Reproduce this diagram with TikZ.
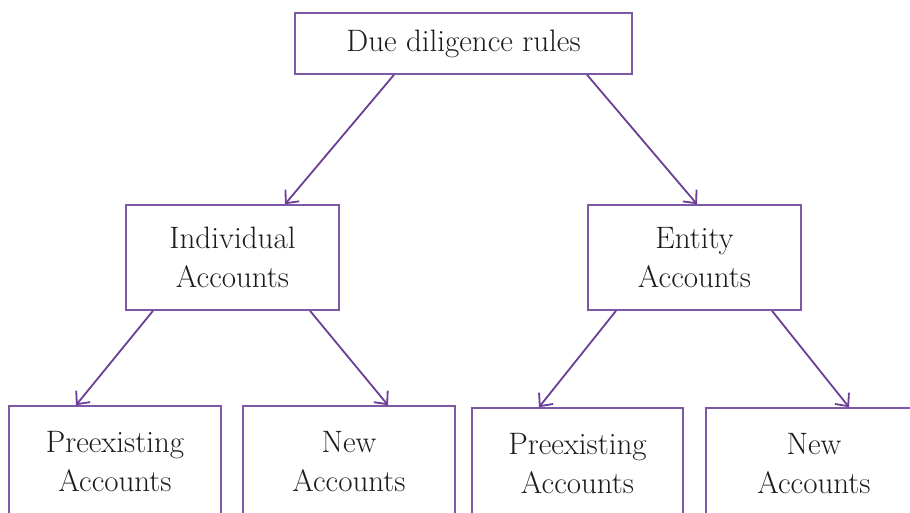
\documentclass[tikz,border=0pt]{standalone}
\usetikzlibrary{arrows.meta}
\definecolor{linepurple}{RGB}{108,62,150}
\definecolor{boxpurple}{RGB}{125,88,165}
\definecolor{txt}{RGB}{30,27,28}
\begin{document}
\begin{tikzpicture}[x=1pt,y=-1pt,
  box/.style={draw=boxpurple,line width=1.6pt,rectangle,align=center,inner sep=0pt,
    text=txt,font=\fontsize{31}{39}\selectfont},
  conn/.style={draw=linepurple,line width=1.8pt,-{Straight Barb[length=10pt,width=18pt,line width=1.8pt]}}]
\useasboundingbox (0,0) rectangle (910,513);
\clip (0,0) rectangle (910,513);
\fill[white] (0,0) rectangle (910,513);
\node[box,minimum width=337pt,minimum height=61pt] (top) at (463.5,43.5) {Due diligence rules};
\node[box,minimum width=213pt,minimum height=105pt] (ind) at (232.5,257.5) {Individual\\Accounts};
\node[box,minimum width=213pt,minimum height=105pt] (ent) at (694.5,257.5) {Entity\\Accounts};
\node[box,minimum width=212pt,minimum height=112pt] (b1) at (115,462) {Preexisting\\Accounts};
\node[box,minimum width=212pt,minimum height=112pt] (b2) at (349,462) {New\\Accounts};
\node[box,minimum width=211pt,minimum height=112pt] (b3) at (577.5,464) {Preexisting\\Accounts};
\node[box,minimum width=216pt,minimum height=112pt] (b4) at (814,464) {New\\Accounts};
\draw[conn] ([xshift=-69.5pt]top.south) -- ([xshift=52.5pt]ind.north);
\draw[conn] ([xshift=123.5pt]top.south) -- ([xshift=2.5pt]ent.north);
\draw[conn] ([xshift=-79.5pt]ind.south) -- ([xshift=-39pt]b1.north);
\draw[conn] ([xshift=77.5pt]ind.south) -- ([xshift=39pt]b2.north);
\draw[conn] ([xshift=-78.5pt]ent.south) -- ([xshift=-38.5pt]b3.north);
\draw[conn] ([xshift=77.5pt]ent.south) -- ([xshift=35pt]b4.north);
\end{tikzpicture}
\end{document}
